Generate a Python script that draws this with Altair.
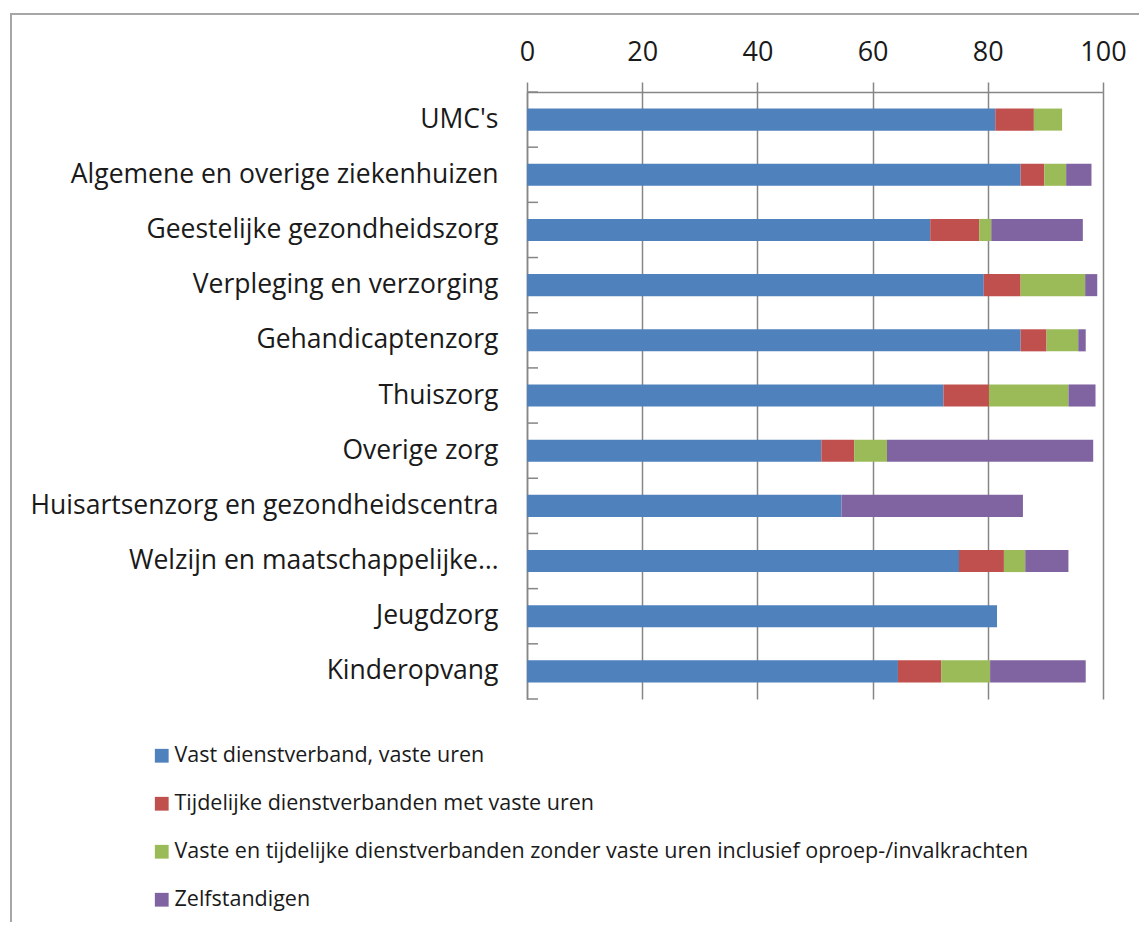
import altair as alt
import pandas as pd

categories = [
    "UMC's ",
    "Algemene en overige ziekenhuizen",
    "Geestelijke gezondheidszorg",
    "Verpleging en verzorging",
    "Gehandicaptenzorg",
    "Thuiszorg",
    "Overige zorg",
    "Huisartsenzorg en gezondheidscentra",
    "Welzijn en maatschappelijke…",
    "Jeugdzorg",
    "Kinderopvang",
]

series = [
    "Vast dienstverband, vaste uren",
    "Tijdelijke dienstverbanden met vaste uren",
    "Vaste en tijdelijke dienstverbanden zonder vaste uren inclusief oproep-/invalkrachten",
    "Zelfstandigen",
]

vast = [81.3, 85.7, 70.0, 79.3, 85.7, 72.3, 51.1, 54.6, 75.0, 81.6, 64.4]
tijdelijk = [6.7, 4.1, 8.5, 6.4, 4.5, 7.9, 5.7, 0.0, 7.8, 0.0, 7.5]
zonder = [4.9, 3.8, 2.1, 11.2, 5.5, 13.8, 5.7, 0.0, 3.7, 0.0, 8.5]
zelfstandig = [0.0, 4.4, 15.9, 2.1, 1.3, 4.7, 35.8, 31.5, 7.5, 0.0, 16.6]

colors = ["#4F81BD", "#C0504D", "#9BBB59", "#8064A2"]
tick_values = [0, 20, 40, 60, 80, 100]

rows = []
for s_idx, (name, vals) in enumerate(zip(series, [vast, tijdelijk, zonder, zelfstandig])):
    for cat, v in zip(categories, vals):
        rows.append({"categorie": cat, "reeks": name, "order": s_idx, "waarde": v})
df = pd.DataFrame(rows)

# category boundaries (for the small inward ticks on the category axis)
boundaries = pd.DataFrame({"grens": list(range(len(categories) + 1))})

GRAY = "#868686"
TXT = "#1a1a1a"
FONT = "Open Sans"

y_scale = alt.Scale(domain=categories, paddingInner=0.6, paddingOuter=0.3)

bars = alt.Chart(df).mark_bar().encode(
    x=alt.X(
        "waarde:Q",
        scale=alt.Scale(domain=[0, 100], nice=False),
        axis=alt.Axis(
            orient="top",
            values=tick_values,
            title=None,
            domainColor=GRAY,
            domainWidth=1.5,
            tickColor=GRAY,
            tickWidth=1.5,
            tickSize=10,
            gridColor=GRAY,
            gridWidth=1.5,
            labelFontSize=27,
            labelFont=FONT,
            labelColor=TXT,
            labelPadding=16,
            labelFlush=False,
            labelOverlap=False,
        ),
    ),
    y=alt.Y(
        "categorie:N",
        sort=categories,
        scale=y_scale,
        axis=alt.Axis(
            orient="left",
            title=None,
            ticks=False,
            domainColor=GRAY,
            domainWidth=1.5,
            labelFontSize=26.5,
            labelFont=FONT,
            labelColor=TXT,
            labelPadding=29,
            labelLimit=0,
            grid=False,
        ),
    ),
    color=alt.Color(
        "reeks:N",
        sort=series,
        scale=alt.Scale(domain=series, range=colors),
        legend=alt.Legend(
            title=None,
            orient="none",
            legendX=-376,
            legendY=653,
            direction="vertical",
            symbolType="square",
            symbolSize=190,
            symbolStrokeWidth=0,
            labelFontSize=21.5,
            labelFont=FONT,
            labelColor=TXT,
            labelOffset=2,
            labelLimit=0,
            rowPadding=25,
            padding=0,
        ),
    ),
    order=alt.Order("order:Q", sort="ascending"),
)

inner_ticks = alt.Chart(boundaries).mark_rule(color=GRAY, strokeWidth=1.5).encode(
    y=alt.Y("grens:Q", scale=alt.Scale(domain=[0, len(categories)], nice=False), axis=None),
    x=alt.value(0),
    x2=alt.value(11),
)

frame_top = alt.Chart(pd.DataFrame({"k": [0]})).mark_rule(color="#a6a6a6", strokeWidth=2).encode(
    x=alt.value(-516), x2=alt.value(700), y=alt.value(-78)
)
frame_left = alt.Chart(pd.DataFrame({"k": [0]})).mark_rule(color="#a6a6a6", strokeWidth=2).encode(
    x=alt.value(-516), y=alt.value(-79), y2=alt.value(900)
)

chart = (
    alt.layer(bars, inner_ticks, frame_top, frame_left)
    .resolve_scale(y="independent")
    .properties(
        width=576,
        height=607,
        autosize=alt.AutoSizeParams(type="none"),
        padding={"left": 519, "top": 84, "right": 36, "bottom": 223},
        background="white",
    )
    .configure_view(stroke="transparent")
)

chart.save("out.html", embed_options={"renderer": "svg", "actions": False})
